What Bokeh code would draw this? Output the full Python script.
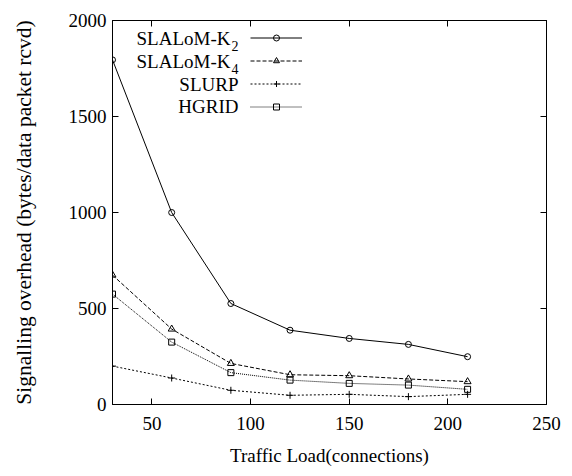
from bokeh.plotting import figure
from bokeh.models import (Range1d, LinearAxis, FixedTicker, Legend, LegendItem,
                          Label)
from bokeh.core.properties import value
from bokeh.embed import file_html
from bokeh.resources import INLINE

# Traffic load (number of connections)
load = [30, 60, 90, 120, 150, 180, 210]

# Signalling overhead (bytes / data packet received)
slalom_k2 = [1795, 1000, 526, 387, 344, 313, 249]
slalom_k4 = [674, 393, 214, 155, 150, 133, 119]
slurp = [200, 138, 74, 48, 53, 41, 53]
hgrid = [575, 325, 166, 127, 110, 101, 79]

x_ticks = [50, 100, 150, 200, 250]
y_ticks = [0, 500, 1000, 1500, 2000]

FONT = "'Liberation Serif', 'Times New Roman', serif"

p = figure(width=572, height=476, output_backend="svg", toolbar_location=None,
           x_range=Range1d(30, 250), y_range=Range1d(0, 2000),
           min_border_left=112, min_border_right=26,
           min_border_top=20, min_border_bottom=72,
           x_axis_label="Traffic Load(connections)",
           y_axis_label="Signalling overhead (bytes/data packet rcvd)")
p.grid.visible = False
p.outline_line_color = "black"
p.background_fill_color = "white"
p.border_fill_color = "white"


def style_axis(ax, ticks, labels=True):
    ax.ticker = FixedTicker(ticks=ticks)
    ax.major_tick_in = 6
    ax.major_tick_out = 0
    ax.minor_tick_in = 0
    ax.minor_tick_out = 0
    ax.axis_line_color = "black"
    ax.major_tick_line_color = "black"
    ax.major_label_text_font = FONT
    ax.major_label_text_font_size = "19px"
    ax.major_label_text_color = "black" if labels else None
    ax.axis_label_text_font = FONT
    ax.axis_label_text_font_size = "19px"
    ax.axis_label_text_font_style = "normal"
    ax.axis_label_text_color = "black"


style_axis(p.xaxis[0], x_ticks)
style_axis(p.yaxis[0], y_ticks)
p.xaxis[0].major_label_standoff = 12
p.xaxis[0].axis_label_standoff = 12
p.yaxis[0].major_label_standoff = 6
p.yaxis[0].axis_label_standoff = 30
p.yaxis[0].axis_label_text_font_size = "21.5px"

top = LinearAxis()
style_axis(top, x_ticks, labels=False)
top.major_label_text_font_size = "0px"
right = LinearAxis()
style_axis(right, y_ticks, labels=False)
right.major_label_text_font_size = "0px"
p.add_layout(top, "above")
p.add_layout(right, "right")

series = [
    ("SLALoM-K", "2", slalom_k2, "solid", "circle", 6),
    ("SLALoM-K", "4", slalom_k4, "4 2", "triangle", 7),
    ("SLURP", None, slurp, "2 2", "cross", 7),
    ("HGRID", None, hgrid, "1 1", "square", 6),
]

items = []
for name, sub, ys, dash, marker, size in series:
    ln = p.line(load, ys, line_color="black", line_width=1, line_dash=dash)
    sc = p.scatter(load, ys, marker=marker, size=size, line_color="black",
                   fill_color=None if marker != "cross" else "black",
                   line_width=1)
    items.append(LegendItem(label=value(" "), renderers=[ln, sc]))

legend = Legend(items=items, location=(138, 290),
                glyph_width=52, glyph_height=15, spacing=8,
                label_width=0, label_height=0, label_standoff=0,
                label_text_font_size="1px", padding=0, margin=0,
                border_line_color=None, background_fill_alpha=0)
p.add_layout(legend)

# Legend texts sit to the left of their samples, right-aligned
row_y = [366, 343, 320, 298]
for (name, sub, *_), ry in zip(series, row_y):
    right_x = 118 if sub else 126
    p.add_layout(Label(x=right_x, y=ry, x_units="screen", y_units="screen",
                       text=name, text_align="right", text_baseline="middle",
                       text_font=FONT, text_font_size="19px",
                       text_color="black"))
    if sub:
        p.add_layout(Label(x=right_x + 1, y=ry - 7, x_units="screen",
                           y_units="screen", text=sub, text_align="left",
                           text_baseline="middle", text_font=FONT,
                           text_font_size="14px", text_color="black"))

open("out.html", "w").write(file_html(p, INLINE))
